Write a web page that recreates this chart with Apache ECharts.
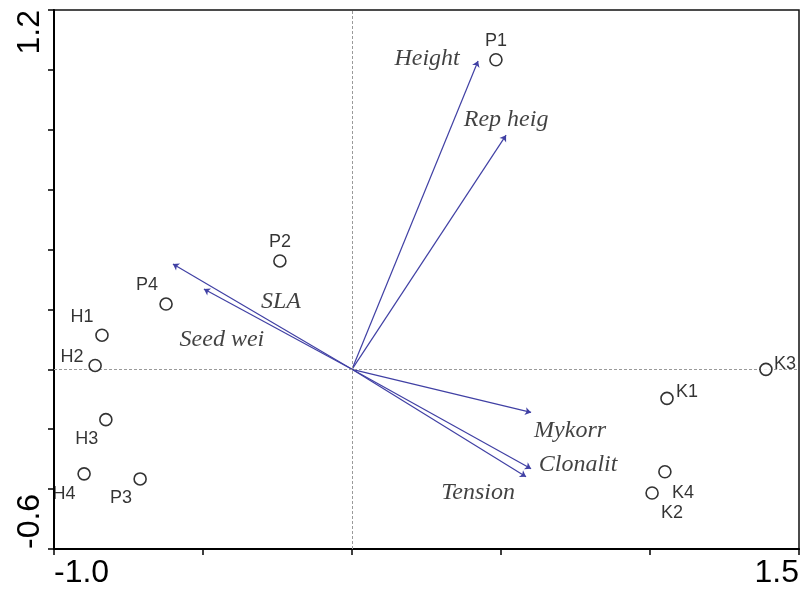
<!DOCTYPE html>
<html>
<head>
<meta charset="utf-8">
<script src="https://cdn.jsdelivr.net/npm/echarts@6/dist/echarts.min.js"></script>
<style>html,body{margin:0;padding:0;background:#fff}#c{width:808px;height:590px}</style>
</head>
<body>
<div id="c"></div>
<script>
// ---- data ----
const xRange = [-1.0, 1.5];
const yRange = [-0.6, 1.2];
const xTickLabels = ['-1.0', '1.5'];
const yTickLabels = ['-0.6', '1.2'];

const siteNames = ['P1', 'P2', 'P4', 'H1', 'H2', 'H3', 'H4', 'P3', 'K3', 'K1', 'K4', 'K2'];
const siteX = [0.483, -0.242, -0.624, -0.839, -0.862, -0.826, -0.899, -0.711, 1.389, 1.057, 1.050, 1.007];
const siteY = [1.034, 0.362, 0.218, 0.114, 0.013, -0.168, -0.349, -0.366, 0.000, -0.097, -0.342, -0.413];

const traitNames = ['Height', 'Rep heig', 'SLA', 'Seed wei', 'Mykorr', 'Clonalit', 'Tension'];
const traitX = [0.423, 0.517, -0.601, -0.497, 0.601, 0.601, 0.584];
const traitY = [1.030, 0.782, 0.352, 0.268, -0.144, -0.332, -0.359];

// ---- label placement (pixels, relative to mark) ----
const siteLabelOffset = {
  P1: [0, -19], P2: [0, -19], P4: [-19, -19], H1: [-20, -18], H2: [-23, -8],
  H3: [-19, 19], H4: [-20, 20], P3: [-19, 19], K3: [19, -5], K1: [20, -6],
  K4: [18, 21], K2: [20, 20]
};
const traitLabelOffset = {
  'Height': [-51, -2], 'Rep heig': [0, -15], 'SLA': [108, 38], 'Seed wei': [18, 51],
  'Mykorr': [39, 18], 'Clonalit': [47, -4], 'Tension': [-48, 16]
};

const near = (a, b) => Math.abs(a - b) < 1e-6;

const chart = echarts.init(document.getElementById('c'), null, { renderer: 'canvas' });

const siteData = siteNames.map((n, i) => ({
  name: n, value: [siteX[i], siteY[i]],
  label: { offset: siteLabelOffset[n] }
}));
const traitTipData = traitNames.map((n, i) => ({
  name: n, value: [traitX[i], traitY[i]],
  label: { offset: traitLabelOffset[n] }
}));
const arrowData = traitNames.map((n, i) => ({ coords: [[0, 0], [traitX[i], traitY[i]]] }));

chart.setOption({
  animation: false,
  backgroundColor: '#ffffff',
  grid: { left: 54, right: 9, top: 10, bottom: 41, show: true, borderColor: '#111', borderWidth: 1.5, backgroundColor: 'transparent' },
  xAxis: {
    type: 'value', min: xRange[0], max: xRange[1], interval: 0.5,
    splitLine: { show: false },
    axisLine: { onZero: false, lineStyle: { color: '#000', width: 2 } },
    axisTick: { show: true, length: 6, lineStyle: { color: '#000', width: 1.5 } },
    axisLabel: {
      margin: 8, fontSize: 32, color: '#000', fontFamily: 'Liberation Sans, Arial, sans-serif',
      showMinLabel: true, showMaxLabel: true,
      alignMinLabel: 'left', alignMaxLabel: 'right',
      formatter: v => near(v, xRange[0]) ? xTickLabels[0] : (near(v, xRange[1]) ? xTickLabels[1] : '')
    }
  },
  yAxis: {
    type: 'value', min: yRange[0], max: yRange[1], interval: 0.2,
    splitLine: { show: false },
    axisLine: { onZero: false, lineStyle: { color: '#000', width: 2 } },
    axisTick: { show: true, length: 6, lineStyle: { color: '#000', width: 1.5 } },
    axisLabel: {
      rotate: 90, margin: 8, fontSize: 32, color: '#000', fontFamily: 'Liberation Sans, Arial, sans-serif',
      showMinLabel: true, showMaxLabel: true,
      alignMinLabel: 'left', alignMaxLabel: 'right',
      formatter: v => near(v, yRange[0]) ? yTickLabels[0] : (near(v, yRange[1]) ? yTickLabels[1] : '')
    }
  },
  series: [
    {
      type: 'scatter', name: 'zero', data: [], silent: true,
      markLine: {
        silent: true, symbol: 'none', label: { show: false },
        lineStyle: { color: '#9a9a9a', type: [3, 2], width: 1 },
        data: [{ xAxis: 0 }, { yAxis: 0 }]
      }
    },
    {
      type: 'lines', coordinateSystem: 'cartesian2d', name: 'traits',
      data: arrowData, symbol: ['none', 'arrow'], symbolSize: [0, 6],
      lineStyle: { color: '#4040a4', width: 1.2, opacity: 1 }, silent: true, z: 3
    },
    {
      type: 'scatter', name: 'traitLabels', data: traitTipData, symbolSize: 0, silent: true, z: 4,
      label: {
        show: true, position: 'inside', formatter: p => p.name,
        fontFamily: 'Liberation Serif, Times New Roman, serif', fontStyle: 'italic', fontSize: 24, color: '#111'
      }
    },
    {
      type: 'scatter', name: 'sites', data: siteData, symbol: 'circle', symbolSize: 12, z: 5,
      itemStyle: { color: '#fff', borderColor: '#000', borderWidth: 1.6 },
      label: {
        show: true, position: 'inside', formatter: p => p.name,
        fontFamily: 'Liberation Sans, Arial, sans-serif', fontSize: 18, color: '#000'
      }
    }
  ]
});
</script>
</body>
</html>
